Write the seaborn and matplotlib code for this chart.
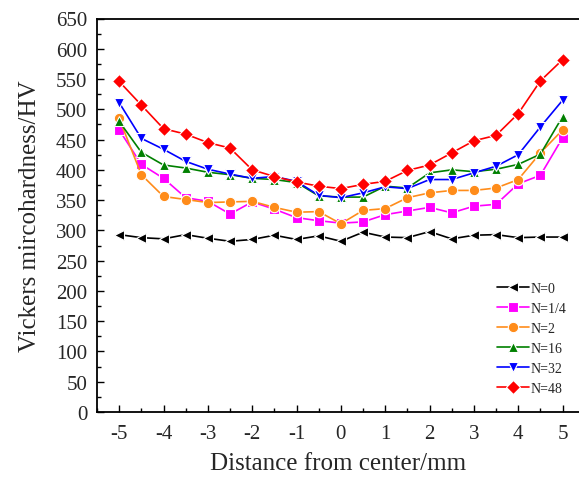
import numpy as np
import pandas as pd
import seaborn as sns
import matplotlib.pyplot as plt
from matplotlib.ticker import MultipleLocator

# Distance from center (mm)
distance = [-5, -4.5, -4, -3.5, -3, -2.5, -2, -1.5, -1, -0.5, 0,
            0.5, 1, 1.5, 2, 2.5, 3, 3.5, 4, 4.5, 5]

# Vickers microhardness for each pass number
hv_n0 = [293, 288, 286, 293, 287, 282, 285, 292, 285, 291, 282,
         297, 289, 288, 298, 286, 292, 293, 288, 289, 289]
hv_n1_4 = [466, 409, 386, 354, 348, 327, 347, 335, 321, 316, 312,
           314, 326, 332, 338, 329, 340, 343, 377, 391, 453]
hv_n2 = [485, 392, 356, 351, 346, 347, 348, 338, 330, 331, 311,
         333, 336, 354, 362, 366, 366, 370, 384, 428, 466]
hv_n16 = [480, 429, 408, 403, 396, 392, 386, 384, 379, 357, 355,
          355, 373, 370, 395, 400, 397, 401, 409, 426, 488]
hv_n32 = [511, 452, 434, 414, 401, 393, 386, 389, 381, 358, 354,
          362, 372, 369, 384, 384, 395, 406, 425, 471, 515]
hv_n48 = [546, 507, 468, 459, 445, 436, 400, 389, 380, 373, 369,
          376, 381, 399, 408, 428, 448, 457, 493, 547, 582]

labels = ["N=0", "N=1/4", "N=2", "N=16", "N=32", "N=48"]
series = [hv_n0, hv_n1_4, hv_n2, hv_n16, hv_n32, hv_n48]
colors = ["#000000", "#FF00FF", "#FF8C1A", "#008000", "#0000FF", "#FF0000"]
markers = ["<", "s", "o", "^", "v", "D"]

rows = []
for lab, vals in zip(labels, series):
    for x, y in zip(distance, vals):
        rows.append({"Distance": x, "HV": y, "N": lab})
df = pd.DataFrame(rows)

sns.set_style("ticks")
plt.rcParams['font.family'] = ['Liberation Serif', 'DejaVu Serif']
plt.rcParams['axes.unicode_minus'] = False

fig = plt.figure(figsize=(5.79, 4.81), dpi=100)
ax = fig.add_axes([97 / 579, 68 / 481, (579 - 97) / 579, 393.5 / 481])

sns.lineplot(data=df, x="Distance", y="HV", hue="N", style="N",
             hue_order=labels, style_order=labels,
             palette=dict(zip(labels, colors)),
             markers=dict(zip(labels, markers)), dashes=False,
             markersize=7.5, markeredgewidth=0.8, linewidth=1.2, ax=ax)

ax.set_xlim(-5.5, 5.37)
ax.set_ylim(0, 650)
ax.xaxis.set_major_locator(MultipleLocator(1))
ax.xaxis.set_minor_locator(MultipleLocator(0.5))
ax.yaxis.set_major_locator(MultipleLocator(50))
ax.yaxis.set_minor_locator(MultipleLocator(25))
ax.tick_params(which="both", direction="in", top=False, right=False,
               labelsize=15, width=1.0, color="black")
ax.tick_params(which="major", length=5)
ax.tick_params(which="minor", length=3)
ax.tick_params(axis="x", pad=9)
ax.tick_params(axis="y", pad=7)
ax.spines["right"].set_visible(False)
for s in ["left", "bottom", "top"]:
    ax.spines[s].set_linewidth(1.3)
    ax.spines[s].set_color("black")

ax.set_xlabel("Distance from center/mm", fontsize=18, labelpad=6)
ax.set_ylabel("Vickers mircohardness/HV", fontsize=18, labelpad=11)

leg = ax.legend(loc="lower right", bbox_to_anchor=(0.985, 0.03), frameon=False,
                fontsize=10, handlelength=2.3, handletextpad=0.1,
                labelspacing=0.5, borderaxespad=0)

fig.savefig("out.png", dpi=100)
